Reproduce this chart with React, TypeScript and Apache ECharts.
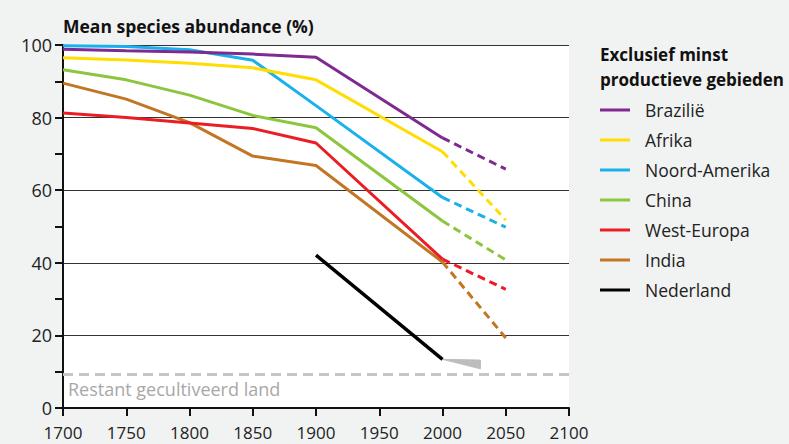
import React, { useEffect, useRef } from "react";
import * as echarts from "echarts";

const years = [1700, 1750, 1800, 1850, 1900, 2000];
const projYears = [2000, 2050];

const brazilie = [98.8, 98.4, 98.1, 97.5, 96.6, 74.4];
const brazilieProj = [74.4, 65.8];
const afrika = [96.5, 95.9, 95.0, 93.7, 90.4, 70.6];
const afrikaProj = [70.6, 51.8];
const noordAmerika = [99.8, 99.6, 98.7, 95.8, 83.3, 58.0];
const noordAmerikaProj = [58.0, 49.8];
const china = [93.2, 90.4, 86.2, 80.6, 77.2, 51.5];
const chinaProj = [51.5, 40.8];
const westEuropa = [81.3, 80.0, 78.5, 77.0, 73.0, 41.0];
const westEuropaProj = [41.0, 32.7];
const india = [89.5, 85.1, 78.6, 69.4, 66.8, 40.2];
const indiaProj = [40.2, 19.3];

const nederlandYears = [1900, 2000];
const nederland = [42.1, 13.4];

const wedgeYears = [2000, 2030];
const wedgeTop = [13.4, 13.2];
const wedgeBottom = [13.4, 10.8];

const restantYears = [1700, 2100];
const restant = [9.2, 9.2];

const xTicks = [1700, 1750, 1800, 1850, 1900, 1950, 2000, 2050, 2100];

const countries = [
  { name: "Brazilië", color: "#7e2a90", data: brazilie, proj: brazilieProj },
  { name: "Afrika", color: "#ffdd00", data: afrika, proj: afrikaProj },
  { name: "Noord-Amerika", color: "#1ab0ec", data: noordAmerika, proj: noordAmerikaProj },
  { name: "China", color: "#8cc63e", data: china, proj: chinaProj },
  { name: "West-Europa", color: "#ec1c24", data: westEuropa, proj: westEuropaProj },
  { name: "India", color: "#c27623", data: india, proj: indiaProj },
];

const FONT = "'Open Sans', 'DejaVu Sans', sans-serif";

export default function App() {
  const ref = useRef<HTMLDivElement>(null);
  useEffect(() => {
    if (!ref.current) return;
    const chart = echarts.init(ref.current, null, { renderer: "svg" });
    const zip = (xs: number[], ys: number[]) => xs.map((x, i) => [x, ys[i]]);
    const series: any[] = [];
    series.push({
      type: "line",
      name: "Restant",
      data: zip(restantYears, restant),
      symbol: "none",
      silent: true,
      lineStyle: { color: "#c6c6c6", width: 3, type: [10, 6] },
      z: 1,
    });
    countries.slice().reverse().forEach((c) => {
      series.push({
        type: "line",
        name: c.name,
        data: zip(years, c.data),
        symbol: "none",
        lineStyle: { color: c.color, width: 3 },
        itemStyle: { color: c.color },
        z: 3,
      });
      series.push({
        type: "line",
        name: c.name,
        data: zip(projYears, c.proj),
        symbol: "none",
        lineStyle: { color: c.color, width: 3, type: [8, 5] },
        itemStyle: { color: c.color },
        z: 3,
      });
    });
    series.push({
      type: "custom",
      name: "wedge",
      data: [[0]],
      silent: true,
      z: 2,
      renderItem: (params: any, api: any) => {
        const pts: number[][] = [];
        wedgeYears.forEach((y, i) => pts.push(api.coord([y, wedgeTop[i]])));
        for (let i = wedgeYears.length - 1; i >= 0; i--) pts.push(api.coord([wedgeYears[i], wedgeBottom[i]]));
        return { type: "polygon", shape: { points: pts }, style: { fill: "#bdbdbd", stroke: "#bdbdbd", lineWidth: 1 } };
      },
    });
    series.push({
      type: "line",
      name: "Nederland",
      data: zip(nederlandYears, nederland),
      symbol: "none",
      lineStyle: { color: "#000", width: 3.5 },
      itemStyle: { color: "#000" },
      z: 4,
    });

    const legendNames = [...countries.map((c) => c.name), "Nederland"];
    const legendColors = [...countries.map((c) => c.color), "#000"];

    chart.setOption({
      animation: false,
      backgroundColor: "#f1f2f2",
      textStyle: { fontFamily: FONT },
      title: {
        text: "Mean species abundance (%)",
        left: 58,
        top: 12,
        textStyle: { fontFamily: FONT, fontSize: 17.5, fontWeight: "bold", color: "#111" },
      },
      grid: {
        left: 63,
        right: 220,
        top: 45,
        bottom: 36,
        show: true,
        backgroundColor: "#ffffff",
        borderWidth: 0,
      },
      legend: {
        orient: "vertical",
        left: 595,
        top: 95,
        itemWidth: 30,
        itemHeight: 3,
        itemGap: 10,
        icon: "rect",
        selectedMode: false,
        data: legendNames.map((n, i) => ({ name: n, itemStyle: { color: legendColors[i] } })),
        textStyle: { fontFamily: FONT, fontSize: 17.5, color: "#222", lineHeight: 20, padding: [0, 0, 0, 10] },
      },
      xAxis: {
        type: "value",
        min: 1700,
        max: 2100,
        interval: 50,
        axisLine: { show: true, lineStyle: { color: "#111", width: 2 } },
        axisTick: { show: true, length: 8, lineStyle: { color: "#111", width: 2 } },
        axisLabel: {
          fontFamily: FONT,
          fontSize: 17,
          color: "#222",
          margin: 16,
          formatter: (v: number) => (xTicks.includes(v) ? String(v) : ""),
        },
        splitLine: { show: false },
      },
      yAxis: {
        type: "value",
        min: 0,
        max: 100,
        interval: 20,
        axisLine: { show: true, onZero: false, lineStyle: { color: "#111", width: 2 } },
        axisTick: { show: true, length: 8, lineStyle: { color: "#111", width: 2 } },
        minorTick: { show: true, splitNumber: 2, length: 8, lineStyle: { color: "#111", width: 2 } },
        axisLabel: { fontFamily: FONT, fontSize: 18, color: "#222", margin: 11 },
        splitLine: { show: true, lineStyle: { color: "#333", width: 1 } },
      },
      graphic: [
        {
          type: "text",
          left: 600,
          top: 42,
          style: {
            text: "Exclusief minst\nproductieve gebieden",
            fontFamily: FONT,
            fontSize: 17,
            fontWeight: "bold",
            fill: "#111",
            lineHeight: 25,
          },
        },
        {
          type: "text",
          left: 68,
          top: 380,
          z: 10,
          style: {
            text: "Restant gecultiveerd land",
            fontFamily: FONT,
            fontSize: 18,
            fill: "#a8a8a8",
          },
        },
      ],
      series,
    });
    return () => chart.dispose();
  }, []);
  return <div ref={ref} style={{ position: "fixed", left: 0, top: 0, width: 789, height: 444 }} />;
}
